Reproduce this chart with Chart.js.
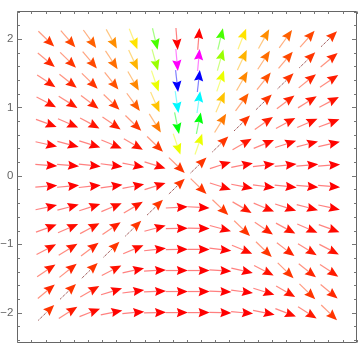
<!DOCTYPE html>
<html>
<head>
<meta charset="utf-8">
<script src="https://cdn.jsdelivr.net/npm/chart.js@4.4.0/dist/chart.umd.min.js"></script>
<style>
  html, body { margin: 0; padding: 0; background: #fff; }
  #wrap { width: 360px; height: 360px; }
</style>
</head>
<body>
<div id="wrap"><canvas id="canvas" width="360" height="360"></canvas></div>
<script>
// sample points of the field (columns left to right, rows top to bottom)
const xValues = [-2, -1.692, -1.385, -1.077, -0.769, -0.462, -0.154, 0.154, 0.462, 0.769, 1.077, 1.385, 1.692, 2];
const yValues = [2, 1.692, 1.385, 1.077, 0.769, 0.462, 0.154, -0.154, -0.462, -0.769, -1.077, -1.385, -1.692, -2];

// slope dy/dx of every arrow (all arrows point to the right)
const slopes = [
  [-1, -1.18, -1.44, -1.86, -2.6, -4.33, -13, 13, 4.33, 2.6, 1.86, 1.44, 1.18, 1],
  [-0.85, -1, -1.22, -1.57, -2.2, -3.67, -11, 11, 3.67, 2.2, 1.57, 1.22, 1, 0.85],
  [-0.69, -0.82, -1, -1.29, -1.8, -3, -9, 9, 3, 1.8, 1.29, 1, 0.82, 0.69],
  [-0.54, -0.64, -0.78, -1, -1.4, -2.33, -7, 7, 2.33, 1.4, 1, 0.78, 0.64, 0.54],
  [-0.38, -0.45, -0.56, -0.71, -1, -1.67, -5, 5, 1.67, 1, 0.71, 0.56, 0.45, 0.38],
  [-0.23, -0.27, -0.33, -0.43, -0.6, -1, -3, 3, 1, 0.6, 0.43, 0.33, 0.27, 0.23],
  [-0.08, -0.09, -0.11, -0.14, -0.2, -0.33, -1, 1, 0.33, 0.2, 0.14, 0.11, 0.09, 0.08],
  [0.08, 0.09, 0.11, 0.14, 0.2, 0.33, 1, -1, -0.33, -0.2, -0.14, -0.11, -0.09, -0.08],
  [0.23, 0.27, 0.33, 0.43, 0.6, 1, 0.06, -0.06, -1, -0.6, -0.43, -0.33, -0.27, -0.23],
  [0.38, 0.45, 0.56, 0.71, 1, 0.28, 0.02, -0.02, -0.28, -1, -0.71, -0.56, -0.45, -0.38],
  [0.54, 0.64, 0.78, 1, 0.43, 0.12, 0.01, -0.01, -0.12, -0.43, -1, -0.78, -0.64, -0.54],
  [0.69, 0.82, 1, 0.53, 0.23, 0.06, 0, 0, -0.06, -0.23, -0.53, -1, -0.82, -0.69],
  [0.85, 1, 0.6, 0.32, 0.14, 0.04, 0, 0, -0.04, -0.14, -0.32, -0.6, -1, -0.85],
  [1, 0.66, 0.4, 0.21, 0.09, 0.03, 0, 0, -0.03, -0.09, -0.21, -0.4, -0.66, -1]
];

const tickLabels = ['\u22122', '\u22121', '0', '1', '2'];
const tickValues = [-2, -1, 0, 1, 2];

// build points
const points = [];
for (let r = 0; r < yValues.length; r++) {
  for (let c = 0; c < xValues.length; c++) {
    const s = slopes[r][c];
    points.push({ x: xValues[c], y: yValues[r], s: s, m: Math.sqrt(1 + s * s) });
  }
}
const mags = points.map(p => p.m);
const mMin = Math.min(...mags), mMax = Math.max(...mags);

function hueColor(m, alpha) {
  const h = ((m - mMin) / (mMax - mMin)) * 360;
  return `hsla(${h}, 100%, 50%, ${alpha})`;
}

const arrowLen = 22, headLen = 11, headHalf = 4.6;

const arrowPlugin = {
  id: 'arrows',
  afterDatasetsDraw(chart) {
    const ctx = chart.ctx;
    const xs = chart.scales.x, ys = chart.scales.y;
    const kx = xs.getPixelForValue(1) - xs.getPixelForValue(0);
    const ky = ys.getPixelForValue(1) - ys.getPixelForValue(0);
    ctx.save();
    chart.data.datasets[0].data.forEach(p => {
      const cx = xs.getPixelForValue(p.x), cy = ys.getPixelForValue(p.y);
      let dx = kx, dy = ky * p.s;
      const n = Math.hypot(dx, dy);
      dx /= n; dy /= n;
      const tx = cx - dx * arrowLen / 2, ty = cy - dy * arrowLen / 2;
      const hx = cx + dx * arrowLen / 2, hy = cy + dy * arrowLen / 2;
      const bx = hx - dx * headLen, by = hy - dy * headLen;
      // shaft (the rising diagonal ones come out dark and dotted in the original)
      if (p.s === 1) {
        ctx.setLineDash([1, 1]);
        ctx.strokeStyle = 'rgba(110, 0, 0, 0.9)';
        ctx.lineWidth = 1;
      } else {
        ctx.setLineDash([]);
        ctx.strokeStyle = hueColor(p.m, 0.5);
        ctx.lineWidth = 1.2;
      }
      ctx.beginPath();
      ctx.moveTo(tx, ty);
      ctx.lineTo(bx + dx * 1.5, by + dy * 1.5);
      ctx.stroke();
      ctx.setLineDash([]);
      // head
      ctx.fillStyle = hueColor(p.m, 1);
      ctx.beginPath();
      ctx.moveTo(hx, hy);
      ctx.lineTo(bx - dy * headHalf, by + dx * headHalf);
      ctx.lineTo(bx + dx * 1.5, by + dy * 1.5);
      ctx.lineTo(bx + dy * headHalf, by - dx * headHalf);
      ctx.closePath();
      ctx.fill();
    });
    ctx.restore();
  }
};

const framePlugin = {
  id: 'frame',
  afterDraw(chart) {
    const ctx = chart.ctx;
    const a = chart.chartArea;
    const xs = chart.scales.x, ys = chart.scales.y;
    const L = Math.round(a.left) + 0.5, R = Math.round(a.right) - 0.5;
    const T = Math.round(a.top) + 0.5, B = Math.round(a.bottom) - 0.5;
    ctx.save();
    ctx.strokeStyle = '#666';
    ctx.lineWidth = 1;
    ctx.beginPath();
    ctx.rect(L, T, R - L, B - T);
    ctx.stroke();
    ctx.strokeStyle = '#777';
    ctx.beginPath();
    xs.ticks.forEach(t => {
      const major = Math.abs(t.value - Math.round(t.value)) < 1e-6;
      const len = major ? 4.5 : 2.5;
      const px = Math.round(xs.getPixelForValue(t.value)) + 0.5;
      ctx.moveTo(px, B); ctx.lineTo(px, B - len);
      ctx.moveTo(px, T); ctx.lineTo(px, T + len);
    });
    ys.ticks.forEach(t => {
      const major = Math.abs(t.value - Math.round(t.value)) < 1e-6;
      const len = major ? 4.5 : 2.5;
      const py = Math.round(ys.getPixelForValue(t.value)) + 0.5;
      ctx.moveTo(L, py); ctx.lineTo(L + len, py);
      ctx.moveTo(R, py); ctx.lineTo(R - len, py);
    });
    ctx.stroke();
    ctx.restore();
  }
};

function labelFor(v) {
  const i = tickValues.findIndex(t => Math.abs(t - v) < 1e-6);
  return i >= 0 ? tickLabels[i] : '';
}

const tickFont = { family: 'Liberation Sans', size: 11.5 };

new Chart(document.getElementById('canvas'), {
  type: 'scatter',
  data: {
    datasets: [{ data: points, pointRadius: 0, pointHoverRadius: 0, showLine: false }]
  },
  options: {
    responsive: false,
    animation: false,
    events: [],
    layout: { padding: { top: 1.7, right: 3.3, left: 0, bottom: 0 } },
    plugins: { legend: { display: false }, tooltip: { enabled: false } },
    scales: {
      x: {
        type: 'linear',
        min: -2.41, max: 2.39,
        grid: { display: false, drawTicks: false },
        border: { display: false },
        ticks: {
          stepSize: 0.2, includeBounds: false, autoSkip: false, maxRotation: 0,
          padding: 3, color: '#666', font: tickFont,
          callback: v => labelFor(v)
        },
        afterFit: s => { s.height = 17.3; }
      },
      y: {
        type: 'linear',
        min: -2.44, max: 2.41,
        grid: { display: false, drawTicks: false },
        border: { display: false },
        ticks: {
          stepSize: 0.2, includeBounds: false, autoSkip: false,
          padding: 4, color: '#666', font: tickFont,
          callback: v => labelFor(v)
        },
        afterFit: s => { s.width = 17.3; }
      }
    }
  },
  plugins: [arrowPlugin, framePlugin]
});
</script>
</body>
</html>
